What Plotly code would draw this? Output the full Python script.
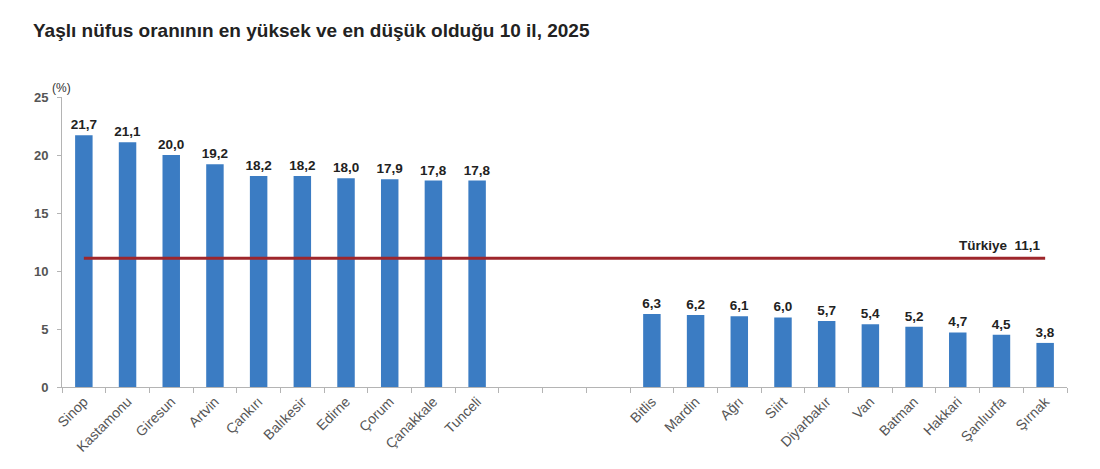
import plotly.graph_objects as go

# En yüksek ve en düşük 10 il
iller_yuksek = ["Sinop", "Kastamonu", "Giresun", "Artvin", "Çankırı",
                "Balıkesir", "Edirne", "Çorum", "Çanakkale", "Tunceli"]
oran_yuksek = [21.7, 21.1, 20.0, 19.2, 18.2, 18.2, 18.0, 17.9, 17.8, 17.8]

iller_dusuk = ["Bitlis", "Mardin", "Ağrı", "Siirt", "Diyarbakır",
               "Van", "Batman", "Hakkari", "Şanlıurfa", "Şırnak"]
oran_dusuk = [6.3, 6.2, 6.1, 6.0, 5.7, 5.4, 5.2, 4.7, 4.5, 3.8]

bosluk = [" ", "  ", "   "]  # iki grup arasındaki boş kategoriler
turkiye = 11.1

y_ticks = [0, 5, 10, 15, 20, 25]

FONT = "Liberation Sans, Arial, sans-serif"
BAR_COLOR = "#3B7CC3"
LINE_COLOR = "#9E262B"
AXIS_COLOR = "#B4B4B4"
TICK_TEXT = "#555555"

kategoriler = iller_yuksek + bosluk + iller_dusuk
degerler = oran_yuksek + [None] * len(bosluk) + oran_dusuk
etiketler = [("" if v is None else f"{v:.1f}".replace(".", ",")) for v in degerler]

fig = go.Figure()

fig.add_trace(
    go.Bar(
        x=kategoriler,
        y=degerler,
        width=0.4,
        marker=dict(color=BAR_COLOR, line=dict(width=0)),
        text=etiketler,
        textposition="outside",
        constraintext="none",
        textfont=dict(family=FONT, size=13.5, color="#222222", weight="bold"),
        cliponaxis=False,
        showlegend=False,
    )
)

# Türkiye ortalaması çizgisi (ilk ilden son ile kadar)
fig.add_shape(
    type="line",
    xref="x",
    yref="y",
    x0=0,
    x1=len(kategoriler) - 1,
    y0=turkiye,
    y1=turkiye,
    line=dict(color=LINE_COLOR, width=3),
)

fig.add_annotation(
    xref="x",
    yref="y",
    x=len(kategoriler) - 1,
    y=turkiye,
    text="<b>Türkiye  " + f"{turkiye:.1f}".replace(".", ",") + "</b>",
    showarrow=False,
    xanchor="right",
    yanchor="bottom",
    xshift=-2,
    yshift=3,
    font=dict(family=FONT, size=13.5, color="#222222"),
)

fig.add_annotation(
    xref="paper",
    yref="paper",
    x=-0.012,
    y=1.0,
    text="(%)",
    showarrow=False,
    xanchor="left",
    yanchor="bottom",
    yshift=0,
    font=dict(family=FONT, size=12, color="#333333"),
)

# sayfa gövdesinin 8px kenar boşluğu hesaba katıldı
fig.update_layout(
    width=1100,
    height=469,
    margin=dict(l=54, r=41, t=89, b=90),
    paper_bgcolor="white",
    plot_bgcolor="white",
    title=dict(
        text="<b>Yaşlı nüfus oranının en yüksek ve en düşük olduğu 10 il, 2025</b>",
        x=25 / 1100,
        xanchor="left",
        y=1 - 22 / 469,
        yanchor="middle",
        font=dict(family=FONT, size=19, color="#222222"),
    ),
    bargap=0.6,
)

fig.update_xaxes(
    type="category",
    categoryorder="array",
    categoryarray=kategoriler,
    tickson="boundaries",
    ticks="outside",
    ticklen=5,
    tickcolor=AXIS_COLOR,
    showline=True,
    linecolor=AXIS_COLOR,
    linewidth=1,
    tickangle=-45,
    tickfont=dict(family=FONT, size=14, color=TICK_TEXT),
    showgrid=False,
    zeroline=False,
    automargin=False,
)

fig.update_yaxes(
    range=[0, 25],
    tickvals=y_ticks,
    ticks="outside",
    ticklen=4,
    tickcolor=AXIS_COLOR,
    showline=True,
    linecolor=AXIS_COLOR,
    linewidth=1,
    ticklabelstandoff=6,
    tickfont=dict(family=FONT, size=13, color=TICK_TEXT, weight="bold"),
    showgrid=False,
    zeroline=False,
    automargin=False,
)

fig.write_html("out.html")
